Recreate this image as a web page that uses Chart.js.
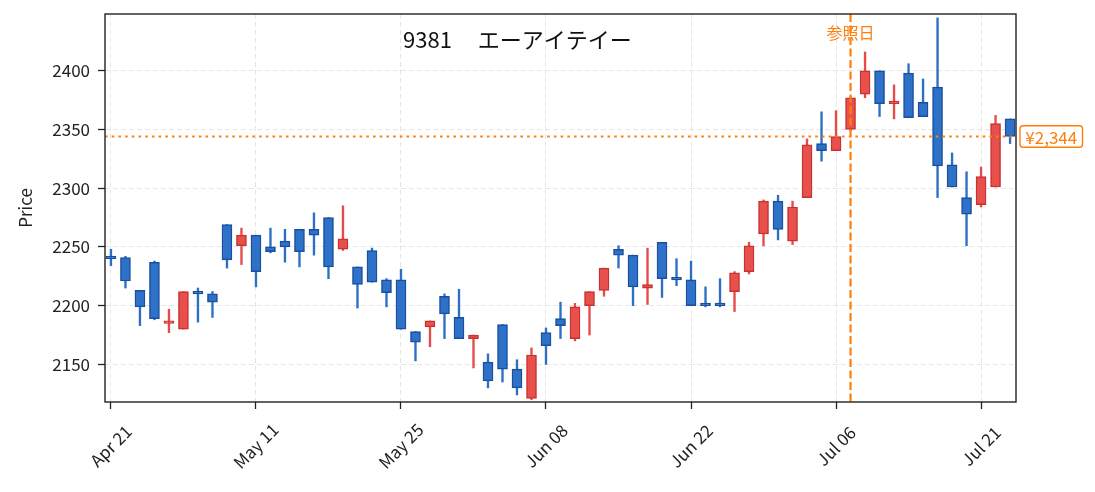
<!DOCTYPE html>
<html>
<head>
<meta charset="utf-8">
<script src="https://cdn.jsdelivr.net/npm/chart.js@4.4.1/dist/chart.umd.min.js"></script>
<style>
  html, body { margin: 0; padding: 0; background: #ffffff; }
  #wrap { width: 1095px; height: 492px; position: relative; }
</style>
</head>
<body>
<div id="wrap"><canvas id="candleChart"></canvas></div>
<script>
// Trading days (index based x axis)
const dates = [
  "Apr 21", "Apr 22", "Apr 23", "Apr 24", "Apr 27", "Apr 28", "Apr 30", "May 01", "May 07", "May 08",
  "May 11", "May 12", "May 13", "May 14", "May 15", "May 18", "May 19", "May 20", "May 21", "May 22",
  "May 25", "May 26", "May 27", "May 28", "May 29", "Jun 01", "Jun 02", "Jun 03", "Jun 04", "Jun 05",
  "Jun 08", "Jun 09", "Jun 10", "Jun 11", "Jun 12", "Jun 15", "Jun 16", "Jun 17", "Jun 18", "Jun 19",
  "Jun 22", "Jun 23", "Jun 24", "Jun 25", "Jun 26", "Jun 29", "Jun 30", "Jul 01", "Jul 02", "Jul 03",
  "Jul 06", "Jul 07", "Jul 08", "Jul 09", "Jul 10", "Jul 13", "Jul 14", "Jul 15", "Jul 16", "Jul 17",
  "Jul 21", "Jul 22", "Jul 23",
];
const opens = [
  2241, 2241, 2213, 2237, 2185, 2180, 2212, 2210, 2269, 2251,
  2260, 2250, 2255, 2265, 2265, 2275, 2248, 2233, 2247, 2222,
  2222, 2178, 2182, 2208, 2190, 2172, 2152, 2184, 2146, 2121,
  2177, 2189, 2172, 2200, 2213, 2248, 2243, 2215, 2254, 2224,
  2222, 2201, 2201, 2212, 2229, 2261, 2289, 2255, 2292, 2338,
  2332, 2350, 2380, 2400, 2372, 2398, 2373, 2386, 2320, 2292,
  2286, 2301, 2359,
];
const highs = [
  2248, 2242, 2213, 2238, 2197, 2212, 2215, 2212, 2269, 2266,
  2260, 2266, 2265, 2265, 2279, 2275, 2285, 2233, 2249, 2223,
  2231, 2178, 2187, 2210, 2214, 2175, 2159, 2184, 2154, 2164,
  2181, 2203, 2202, 2212, 2232, 2251, 2243, 2249, 2254, 2240,
  2238, 2216, 2223, 2229, 2254, 2290, 2294, 2289, 2342, 2365,
  2366, 2378, 2416, 2400, 2388, 2406, 2393, 2445, 2330, 2314,
  2318, 2362, 2359,
];
const lows = [
  2234, 2215, 2183, 2188, 2177, 2180, 2186, 2190, 2232, 2235,
  2216, 2245, 2237, 2233, 2243, 2223, 2247, 2198, 2220, 2199,
  2180, 2153, 2165, 2172, 2172, 2147, 2130, 2135, 2124, 2120,
  2150, 2172, 2170, 2175, 2208, 2232, 2200, 2201, 2207, 2217,
  2200, 2199, 2199, 2195, 2227, 2251, 2256, 2252, 2292, 2323,
  2332, 2349, 2377, 2361, 2359, 2360, 2361, 2292, 2301, 2251,
  2284, 2301, 2338,
];
const closes = [
  2240, 2221, 2199, 2189, 2186, 2212, 2210, 2203, 2239, 2260,
  2229, 2246, 2250, 2246, 2260, 2233, 2257, 2218, 2220, 2211,
  2180, 2169, 2187, 2193, 2172, 2175, 2136, 2146, 2130, 2158,
  2166, 2183, 2199, 2212, 2232, 2243, 2216, 2218, 2223, 2222,
  2200, 2200, 2200, 2228, 2251, 2289, 2265, 2284, 2337, 2332,
  2344, 2377, 2400, 2372, 2373, 2360, 2361, 2319, 2301, 2278,
  2310, 2355, 2344,
];

const xTickIdx = [0, 10, 20, 30, 40, 50, 60];
const yTicks = [2150, 2200, 2250, 2300, 2350, 2400];
const refIdx = 51;
const refLabel = "参照日";
const lastPrice = 2344;
const title = "9381  エーアイテイー";

const FONT = '"Noto Sans CJK JP", "Noto Sans", sans-serif';
const ORANGE = "#ff7f0e";

document.addEventListener("DOMContentLoaded", function () {
  const ctx = document.getElementById("candleChart").getContext("2d");
  Chart.defaults.font.family = FONT;

  const isUp = (i) => closes[i] >= opens[i];
  const bodyFill = dates.map((d, i) => (isUp(i) ? "#e8504b" : "#2d72c8"));
  const bodyEdge = dates.map((d, i) => (isUp(i) ? "#c93232" : "#1b4f9e"));
  const wickColor = dates.map((d, i) => (isUp(i) ? "#e84a4a" : "#2c6fc6"));

  // extra drawing: reference lines, labels, frame, title
  const decorations = {
    id: "decorations",
    afterDatasetsDraw(chart) {
      const { ctx, chartArea: a, scales } = chart;
      const yp = scales.y.getPixelForValue(lastPrice);
      const xr = scales.x.getPixelForValue(refIdx);
      ctx.save();
      ctx.beginPath();
      ctx.rect(a.left, a.top, a.right - a.left, a.bottom - a.top);
      ctx.clip();
      ctx.strokeStyle = ORANGE;
      ctx.lineWidth = 2.2;
      ctx.setLineDash([2.6, 4.1]);
      ctx.beginPath();
      ctx.moveTo(a.left, yp);
      ctx.lineTo(a.right, yp);
      ctx.stroke();
      ctx.lineWidth = 2.2;
      ctx.setLineDash([8, 3.5]);
      ctx.beginPath();
      ctx.moveTo(xr, a.top);
      ctx.lineTo(xr, a.bottom);
      ctx.stroke();
      ctx.restore();
    },
    afterDraw(chart) {
      const { ctx, chartArea: a, scales } = chart;
      ctx.save();
      // frame
      ctx.strokeStyle = "#222222";
      ctx.lineWidth = 1.4;
      ctx.setLineDash([]);
      ctx.strokeRect(a.left, a.top, a.right - a.left, a.bottom - a.top);

      // title
      ctx.fillStyle = "#111111";
      ctx.font = "22px " + FONT;
      ctx.textAlign = "left";
      ctx.textBaseline = "middle";
      ctx.wordSpacing = "8px";
      ctx.fillText(title, 403, 40);
      ctx.wordSpacing = "0px";

      // reference date label
      const xr = scales.x.getPixelForValue(refIdx);
      ctx.fillStyle = ORANGE;
      ctx.font = "16px " + FONT;
      ctx.textAlign = "center";
      ctx.fillText(refLabel, xr, 33);

      // last price box
      const yp = scales.y.getPixelForValue(lastPrice);
      const bx = a.right + 4, bw = 62.5, bh = 21.5;
      ctx.beginPath();
      ctx.roundRect(bx, yp - bh / 2, bw, bh, 3);
      ctx.fillStyle = "#ffffff";
      ctx.fill();
      ctx.strokeStyle = ORANGE;
      ctx.lineWidth = 1.4;
      ctx.stroke();
      ctx.fillStyle = ORANGE;
      ctx.font = "17px " + FONT;
      ctx.fillText("¥" + lastPrice.toLocaleString("en-US"), bx + bw / 2, yp + 1);

      // rotated x tick labels
      ctx.fillStyle = "#222222";
      ctx.font = "17px " + FONT;
      xTickIdx.forEach((v) => {
        const x = scales.x.getPixelForValue(v);
        ctx.save();
        ctx.translate(x, 446);
        ctx.rotate(-Math.PI / 4);
        ctx.textAlign = "center";
        ctx.textBaseline = "middle";
        ctx.fillText(dates[v], 0, 0);
        ctx.restore();
      });
      ctx.restore();
    },
  };

  new Chart(ctx, {
    type: "bar",
    data: {
      datasets: [
        {
          label: "body",
          data: dates.map((d, i) => ({ x: i, y: [opens[i], closes[i]] })),
          backgroundColor: bodyFill,
          borderColor: bodyEdge,
          borderWidth: 1.5,
          borderSkipped: false,
          barThickness: 10,
          minBarLength: 2.5,
          grouped: false,
          order: 0,
        },
        {
          label: "wick",
          data: dates.map((d, i) => ({ x: i, y: [lows[i], highs[i]] })),
          backgroundColor: wickColor,
          borderWidth: 0,
          barThickness: 1.7,
          grouped: false,
          order: 1,
        },
      ],
    },
    options: {
      responsive: true,
      maintainAspectRatio: false,
      animation: false,
      layout: { padding: { left: 0, right: 79, top: 14, bottom: 0 } },
      plugins: {
        legend: { display: false },
        tooltip: { enabled: false },
      },
      scales: {
        x: {
          type: "linear",
          min: -0.41,
          max: 62.41,
          offset: false,
          afterBuildTicks: function (scale) {
            scale.ticks = xTickIdx.map((v) => ({ value: v }));
          },
          afterFit: function (scale) {
            scale.height = 90;
            scale.paddingLeft = 0;
            scale.paddingRight = 0;
          },
          grid: {
            offset: false,
            color: "#e6e6e6",
            lineWidth: 1,
            tickColor: "#222222",
            tickLength: 7,
            tickWidth: 1.3,
            tickBorderDash: [],
          },
          border: { display: false, dash: [5, 3] },
          ticks: { display: false },
        },
        y: {
          min: 2118,
          max: 2448.3,
          afterBuildTicks: function (scale) {
            scale.ticks = yTicks.map((v) => ({ value: v }));
          },
          afterFit: function (scale) {
            scale.width = 105;
            scale.paddingTop = 0;
            scale.paddingBottom = 0;
          },
          grid: {
            color: "#e6e6e6",
            lineWidth: 1,
            tickColor: "#222222",
            tickLength: 7,
            tickWidth: 1.3,
            tickBorderDash: [],
          },
          border: { display: false, dash: [5, 3] },
          ticks: {
            color: "#222222",
            padding: 8,
            font: { size: 17 },
            callback: function (value) {
              return String(value);
            },
          },
          title: {
            display: true,
            text: "Price",
            color: "#222222",
            font: { size: 17 },
            padding: { top: 15, bottom: 0 },
          },
        },
      },
    },
    plugins: [decorations],
  });
});
</script>
</body>
</html>
